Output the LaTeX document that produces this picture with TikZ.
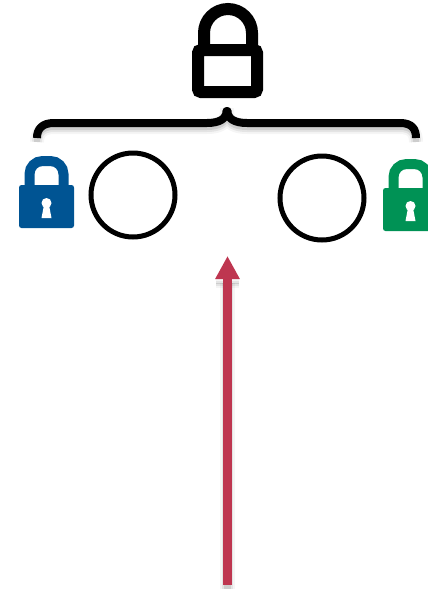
\documentclass[tikz,border=0pt]{standalone}
\usepackage{xcolor}
\usetikzlibrary{arrows.meta}
\definecolor{lockblue}{RGB}{0,84,147}
\definecolor{lockgreen}{RGB}{0,146,85}
\definecolor{arrowred}{RGB}{190,54,80}
\tikzset{
  softshadow/.style={
    preaction={draw=black, opacity=0.04, line width=#1+6pt, transform canvas={yshift=-4pt}},
    preaction={draw=black, opacity=0.07, line width=#1+2pt, transform canvas={yshift=-4pt}},
    preaction={draw=black, opacity=0.10, line width=#1-2pt, transform canvas={yshift=-4pt}}},
  ring/.style={circle, draw=black, line width=5pt, fill=white, minimum size=84pt, inner sep=0pt},
  bracket/.style={draw=black, line width=8pt, line join=round, softshadow=8pt},
  arrowup/.style={draw=arrowred, line width=9pt, -{Triangle[width=23pt,length=23pt]}},
  pics/smalllock/.style={code={
    \fill[#1, rounded corners=2.5pt] (-27.5,-14) rectangle (27.5,29);
    \draw[#1, line width=10pt] (-17,-12) -- (-17,-25) arc[start angle=180, end angle=270, radius=13]
      -- (4,-38) arc[start angle=270, end angle=360, radius=13] -- (17,-12);
    \fill[white] (0,4) circle[radius=5];
    \fill[white] (-2.5,6) -- (2.5,6) -- (5,19) -- (-5,19) -- cycle;
  }}
}
\begin{document}
\begin{tikzpicture}[x=1pt,y=-1pt]
  \clip (0,0) rectangle (428,590);
  % big lock on top
  \draw[black, line width=12pt] (204,50) -- (204,33) arc[start angle=180, end angle=360, radius=24] -- (252,50);
  \draw[black, line width=12pt, rounded corners=3pt, fill=white] (198,50) rectangle (257,92);
  % brace
  \draw[bracket] (37,138) .. controls (37,129) and (42,123) .. (54,123) -- (207,123)
    .. controls (219,123) and (226.5,119) .. (226.5,111) -- (227.5,111)
    .. controls (227.5,119) and (235,123) .. (247,123) -- (400,123)
    .. controls (412,123) and (416,129) .. (416,138);
  % locks and circles
  \pic at (46.5,199) {smalllock=lockblue};
  \node (ringa) [ring] at (133,195) {};
  \node (ringb) [ring] at (322,198) {};
  \pic at (410.5,202) {smalllock=lockgreen};
  % arrow
  \coordinate (arrowstart) at (227.5,585);
  \coordinate (arrowend) at (227.5,256);
  \coordinate (arrowneck) at (227.5,279);
  \coordinate (headleft) at (216,279);
  \coordinate (headright) at (239,279);
  \path[softshadow=3pt] (headleft) -- (headright);
  \path[softshadow=9pt] (arrowstart) -- (arrowneck);
  \draw[arrowup] (arrowstart) -- (arrowend);
\end{tikzpicture}
\end{document}
